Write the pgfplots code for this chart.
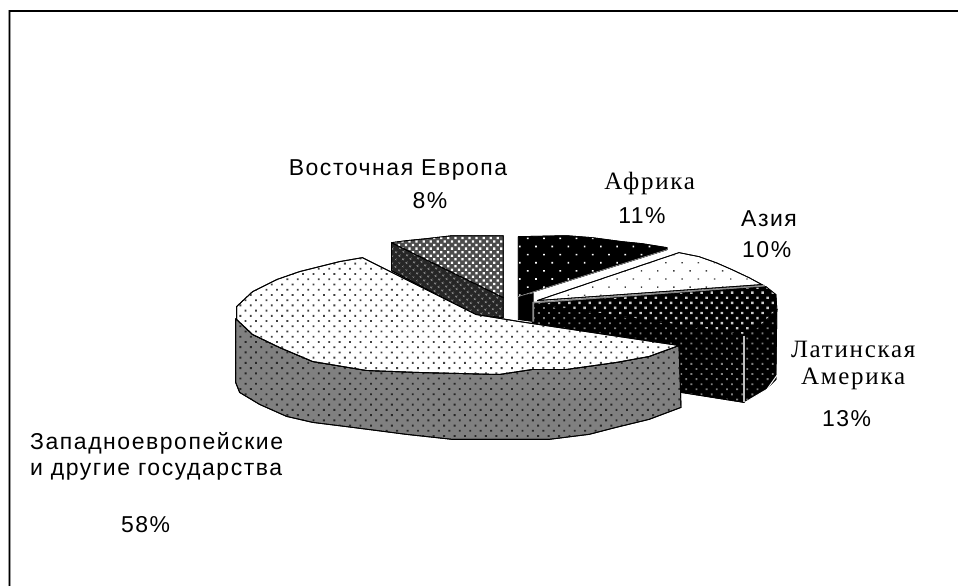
\documentclass[border=0pt]{standalone}
\usepackage{pgfplots}
\pgfplotsset{compat=1.18}
\usetikzlibrary{patterns.meta}
\usepackage{fontspec}
\newfontfamily\ar[LetterSpace=6.8]{Liberation Sans}
\newfontfamily\tm[LetterSpace=7]{Liberation Serif}
\definecolor{midg}{gray}{0.5}
\tikzset{
 wtop/.style={fill=white,postaction={pattern color=black!75,pattern={Dots[distance=7.4bp,radius=1.3bp,angle=45]}}},
 wside/.style={fill=midg,postaction={pattern color=black!85,pattern={Dots[distance=7.4bp,radius=1.35bp,angle=45]}}},
 etop/.style={fill=black!70,postaction={pattern color=white,pattern={Dots[distance=5bp,radius=1.6bp,angle=45]}}},
 eside/.style={fill=black!85,postaction={pattern color=black!45,pattern={Dots[distance=5.2bp,radius=1.3bp,angle=45]}}},
 atop/.style={fill=black,postaction={pattern color=white,pattern={Dots[distance=11.5bp,radius=1.2bp,angle=45]}}},
 stop/.style={fill=white,postaction={pattern color=black!75,pattern={Dots[distance=11.5bp,radius=1bp,angle=45]}}},
 ltop/.style={fill=black,postaction={pattern color=white!80!black,pattern={Dots[distance=7.2bp,radius=1.7bp,angle=45]}}},
 lside/.style={fill=black,postaction={pattern color=black!50,pattern={Dots[distance=7.2bp,radius=1.3bp,angle=45]}}},
}
\begin{document}
\begin{tikzpicture}
\begin{axis}[scale only axis,width=959bp,height=587bp,xmin=0,xmax=959,ymin=0,ymax=587,y dir=reverse,hide axis,clip=false]
\path (axis cs:0,0) rectangle (axis cs:959,587);
% frame
\addplot[draw=black!40,line width=2.8bp] coordinates {(9.5,587)(9.5,11)(959,11)};
\addplot[draw=black,line width=1.3bp] coordinates {(9.5,587)(9.5,11)(959,11)};
% Eastern Europe 8%
\addplot[draw=black,line width=0.8bp,eside] coordinates {(392,243)(504,298)(504,318)(477,316)(392,271)(392,243)};
\addplot[draw=black,line width=0.8bp,etop] coordinates {(392,243)(407,241)(427,239)(453,236)(504,236)(504,298)(392,243)};
% Africa 11%
\addplot[draw=black,fill=black,line width=0.8bp] coordinates {(519,297)(534,294)(534,322)(519,320)(519,297)};
\addplot[draw=black,line width=0.8bp,atop] coordinates {(519,237)(567,236)(593,238)(623,242)(643,244)(668,248)(668,250)(519,297)(519,237)};
\addplot[draw=white!70!black,line width=0.5bp] coordinates {(668,250)(519,297)};
% Latin America 13%
\addplot[draw=black,line width=0.8bp,lside] coordinates {(745,335)(778,310)(777,380)(767,390)(745,403)(682,393)(533,325)(533,304)(745,335)};
\addplot[draw=black,line width=0.8bp,ltop] coordinates {(533,304)(767,287)(777,295)(778,310)(763,325)(745,335)(533,304)};
\addplot[draw=black!45,line width=1.6bp] coordinates {(534,322)(534,303)(766,286)};
\addplot[draw=white!75!black,line width=1.5bp] coordinates {(745,336)(745,403)};
\addplot[draw=white,line width=1bp] coordinates {(778,376)(768,390)(746,403)};
% Asia 10%
\addplot[draw=black,line width=0.8bp,stop] coordinates {(538,301)(680,253)(700,257)(717,263)(733,270)(750,278)(763,285)(538,301)};
% Western Europe 58%
\addplot[draw=black,line width=0.9bp,wside] coordinates {(236,319)(237,320)(253,335)(280,348)(313,362)(367,371)(420,373)(500,375)(533,370)(567,370)(617,363)(650,357)(680,346)(682,408)(650,420)(617,428)(590,435)(550,440)(500,440)(453,440)(407,435)(353,428)(313,423)(287,417)(260,405)(240,393)(236,383)(236,319)};
\addplot[draw=black,line width=0.9bp,wtop] coordinates {(363,258)(340,262)(320,267)(300,272)(277,280)(253,292)(237,307)(237,320)(253,335)(280,348)(313,362)(367,371)(420,373)(500,375)(533,370)(567,370)(617,363)(650,357)(680,346)(520,322)(477,315)(363,258)};
% labels
\node[anchor=base west,inner sep=0,font=\fontsize{23bp}{22bp}\ar] at (axis cs:289,176) {Восточная Европа};
\node[anchor=base west,inner sep=0,font=\fontsize{23bp}{22bp}\ar] at (axis cs:413,209) {8\%};
\node[anchor=base west,inner sep=0,font=\fontsize{25bp}{22bp}\tm] at (axis cs:605,190) {Африка};
\node[anchor=base west,inner sep=0,font=\fontsize{23bp}{22bp}\ar] at (axis cs:619,224) {11\%};
\node[anchor=base west,inner sep=0,font=\fontsize{23bp}{22bp}\ar] at (axis cs:742,227) {Азия};
\node[anchor=base west,inner sep=0,font=\fontsize{23bp}{22bp}\ar] at (axis cs:743,258) {10\%};
\node[anchor=base west,inner sep=0,font=\fontsize{25bp}{22bp}\tm] at (axis cs:792,358) {Латинская};
\node[anchor=base west,inner sep=0,font=\fontsize{25bp}{22bp}\tm] at (axis cs:802,385) {Америка};
\node[anchor=base west,inner sep=0,font=\fontsize{23bp}{22bp}\ar] at (axis cs:823,427) {13\%};
\node[anchor=base west,inner sep=0,font=\fontsize{23bp}{22bp}\ar] at (axis cs:30,450) {Западноевропейские};
\node[anchor=base west,inner sep=0,font=\fontsize{23bp}{22bp}\ar] at (axis cs:30,476) {и другие государства};
\node[anchor=base west,inner sep=0,font=\fontsize{23bp}{22bp}\ar] at (axis cs:121,533) {58\%};
\end{axis}
\end{tikzpicture}
\end{document}
